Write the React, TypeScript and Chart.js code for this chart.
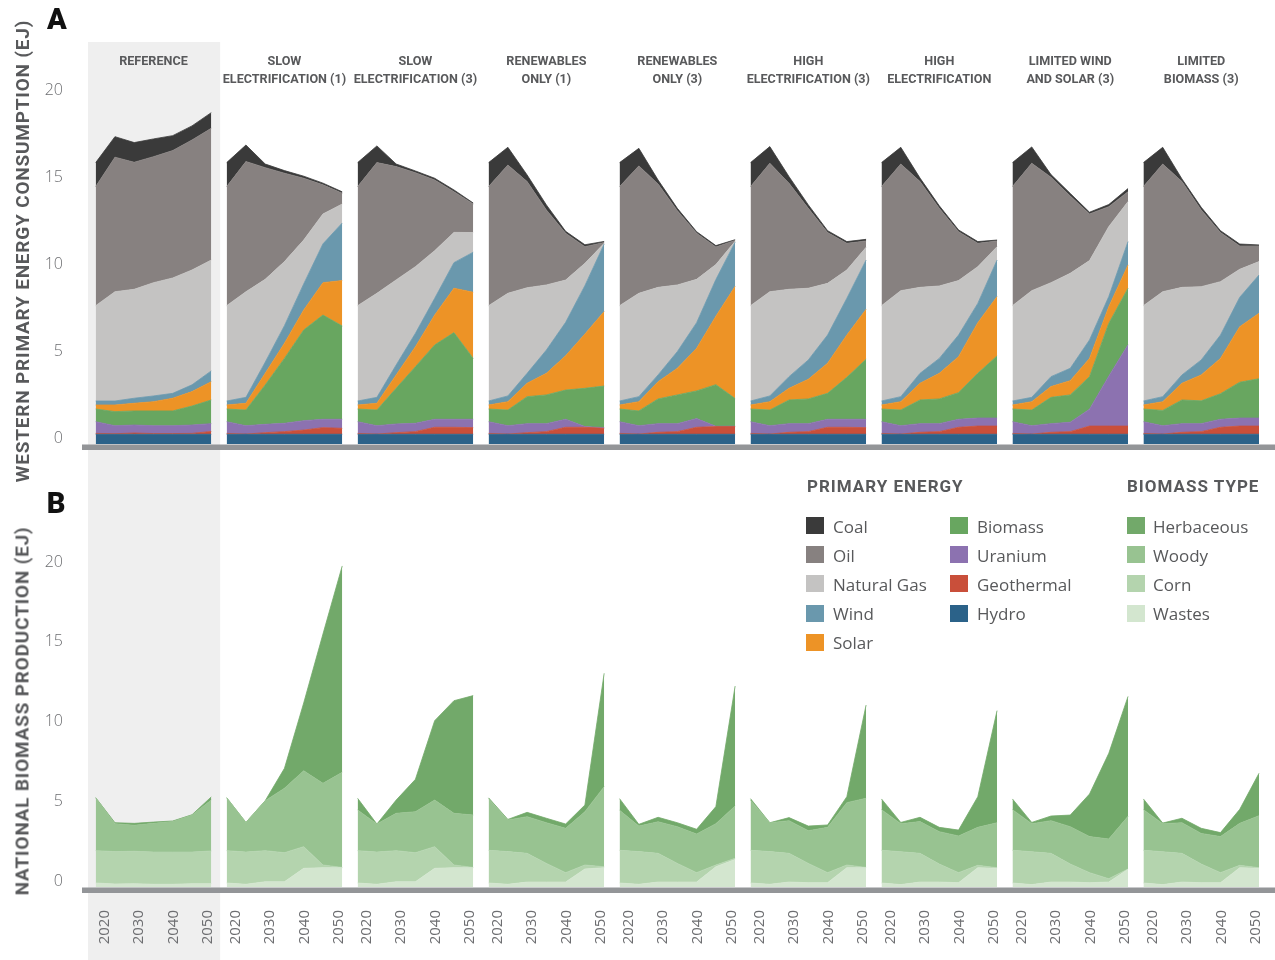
import React, { useEffect, useRef } from 'react';
import { Chart, registerables } from 'chart.js';

Chart.register(...registerables);

// ---------- categories ----------
const YEARS = [2020, 2025, 2030, 2035, 2040, 2045, 2050];
const TICK_YEARS = ['2020', '2030', '2040', '2050'];
const Y_TICKS = [0, 5, 10, 15, 20];
const SCENARIOS = [
  ['REFERENCE'],
  ['SLOW', 'ELECTRIFICATION (1)'],
  ['SLOW', 'ELECTRIFICATION (3)'],
  ['RENEWABLES', 'ONLY (1)'],
  ['RENEWABLES', 'ONLY (3)'],
  ['HIGH', 'ELECTRIFICATION (3)'],
  ['HIGH', 'ELECTRIFICATION'],
  ['LIMITED WIND', 'AND SOLAR (3)'],
  ['LIMITED', 'BIOMASS (3)'],
];

// ---------- panel A: western primary energy consumption (EJ), rows = scenarios ----------
const hydro = [
  [0.56, 0.56, 0.56, 0.56, 0.56, 0.56, 0.56],
  [0.56, 0.56, 0.56, 0.56, 0.56, 0.56, 0.56],
  [0.56, 0.56, 0.56, 0.56, 0.56, 0.56, 0.56],
  [0.56, 0.56, 0.56, 0.56, 0.56, 0.56, 0.56],
  [0.56, 0.56, 0.56, 0.56, 0.56, 0.56, 0.56],
  [0.56, 0.56, 0.56, 0.56, 0.56, 0.56, 0.56],
  [0.56, 0.56, 0.56, 0.56, 0.56, 0.56, 0.56],
  [0.56, 0.56, 0.56, 0.56, 0.56, 0.56, 0.56],
  [0.56, 0.56, 0.56, 0.56, 0.56, 0.56, 0.56],
];
const geothermal = [
  [0.05, 0.03, 0.07, 0.04, 0.04, 0.05, 0.16],
  [0.05, 0.01, 0.09, 0.15, 0.24, 0.38, 0.34],
  [0.05, 0.01, 0.09, 0.15, 0.40, 0.40, 0.38],
  [0.05, 0.01, 0.09, 0.15, 0.40, 0.40, 0.34],
  [0.05, 0.01, 0.11, 0.15, 0.40, 0.44, 0.44],
  [0.05, 0.01, 0.11, 0.15, 0.40, 0.40, 0.38],
  [0.05, 0.01, 0.11, 0.15, 0.40, 0.47, 0.47],
  [0.05, 0.01, 0.11, 0.15, 0.47, 0.47, 0.47],
  [0.05, 0.01, 0.11, 0.15, 0.40, 0.47, 0.47],
];
const uranium = [
  [0.67, 0.46, 0.46, 0.45, 0.45, 0.48, 0.45],
  [0.67, 0.48, 0.48, 0.48, 0.54, 0.48, 0.52],
  [0.67, 0.48, 0.50, 0.48, 0.46, 0.46, 0.48],
  [0.67, 0.48, 0.52, 0.46, 0.46, 0.04, 0.04],
  [0.67, 0.48, 0.50, 0.46, 0.50, 0.02, 0.02],
  [0.67, 0.48, 0.50, 0.46, 0.46, 0.46, 0.48],
  [0.67, 0.48, 0.50, 0.46, 0.46, 0.46, 0.46],
  [0.67, 0.48, 0.50, 0.54, 0.97, 2.87, 4.67],
  [0.67, 0.48, 0.50, 0.46, 0.46, 0.46, 0.46],
];
const biomass = [
  [0.73, 0.81, 0.81, 0.85, 0.85, 1.09, 1.36],
  [0.73, 0.90, 2.26, 3.73, 5.21, 5.99, 5.36],
  [0.73, 0.90, 2.05, 3.25, 4.27, 4.98, 3.50],
  [0.73, 0.90, 1.55, 1.65, 1.68, 2.20, 2.39],
  [0.73, 0.85, 1.42, 1.65, 1.59, 2.39, 1.59],
  [0.73, 0.90, 1.36, 1.42, 1.49, 2.41, 3.45],
  [0.73, 0.90, 1.36, 1.42, 1.53, 2.57, 3.57],
  [0.73, 0.90, 1.51, 1.57, 1.87, 3.03, 3.25],
  [0.73, 0.88, 1.36, 1.31, 1.47, 2.06, 2.26],
];
const solar = [
  [0.23, 0.38, 0.44, 0.53, 0.73, 0.83, 1.05],
  [0.23, 0.39, 0.67, 0.87, 1.15, 1.86, 2.61],
  [0.23, 0.39, 0.77, 1.15, 1.72, 2.55, 3.80],
  [0.23, 0.48, 0.77, 1.24, 1.97, 3.12, 4.28],
  [0.23, 0.53, 0.99, 1.53, 2.45, 3.93, 6.45],
  [0.23, 0.48, 0.67, 1.13, 1.73, 2.43, 2.87],
  [0.23, 0.48, 0.96, 1.47, 2.07, 2.91, 3.41],
  [0.23, 0.48, 0.62, 0.82, 1.05, 0.96, 1.34],
  [0.23, 0.50, 0.96, 1.49, 2.03, 3.19, 3.76],
];
const wind = [
  [0.23, 0.23, 0.29, 0.33, 0.28, 0.39, 0.62],
  [0.23, 0.34, 0.64, 1.01, 1.50, 2.23, 3.31],
  [0.23, 0.34, 0.57, 0.77, 0.96, 1.47, 2.30],
  [0.23, 0.33, 0.57, 1.34, 1.92, 2.78, 3.88],
  [0.23, 0.29, 0.39, 0.96, 1.47, 2.11, 2.54],
  [0.23, 0.33, 0.67, 1.11, 1.62, 2.11, 2.83],
  [0.23, 0.29, 0.57, 0.86, 1.24, 1.11, 2.10],
  [0.23, 0.25, 0.57, 0.71, 1.06, 0.58, 1.34],
  [0.23, 0.29, 0.48, 0.86, 1.34, 1.69, 2.20],
];
const naturalGas = [
  [5.48, 6.28, 6.26, 6.51, 6.63, 6.60, 6.37],
  [5.48, 6.07, 4.76, 3.68, 2.52, 1.72, 1.09],
  [5.48, 5.98, 4.89, 3.83, 2.74, 1.74, 1.13],
  [5.48, 5.90, 4.92, 3.74, 2.43, 1.28, 0.04],
  [5.48, 5.94, 5.03, 3.83, 2.49, 0.86, 0.05],
  [5.48, 5.99, 5.02, 4.12, 2.97, 1.63, 0.73],
  [5.48, 6.09, 4.94, 4.16, 3.13, 2.11, 0.77],
  [5.48, 6.13, 5.40, 5.46, 4.56, 4.02, 2.30],
  [5.48, 6.03, 5.03, 4.21, 3.07, 1.61, 0.77],
];
const oil = [
  [6.84, 7.73, 7.30, 7.24, 7.32, 7.47, 7.57],
  [6.84, 7.48, 6.42, 5.08, 3.55, 1.67, 0.62],
  [6.84, 7.51, 6.51, 5.40, 4.06, 2.34, 1.64],
  [6.84, 7.37, 6.10, 4.31, 2.69, 0.96, 0.05],
  [6.84, 7.32, 5.94, 4.27, 2.65, 1.01, 0.05],
  [6.84, 7.38, 6.09, 4.59, 2.92, 1.53, 0.37],
  [6.84, 7.28, 6.08, 4.46, 2.81, 1.34, 0.33],
  [6.84, 7.32, 6.06, 4.44, 2.68, 1.15, 0.57],
  [6.84, 7.34, 6.08, 4.41, 2.82, 1.34, 0.90],
];
const coal = [
  [1.38, 1.18, 1.13, 1.02, 0.86, 0.81, 0.90],
  [1.38, 0.95, 0.21, 0.15, 0.12, 0.10, 0.08],
  [1.38, 0.96, 0.15, 0.10, 0.10, 0.10, 0.06],
  [1.38, 1.02, 0.38, 0.29, 0.11, 0.11, 0.06],
  [1.38, 1.01, 0.23, 0.13, 0.09, 0.08, 0.04],
  [1.38, 0.96, 0.38, 0.20, 0.11, 0.10, 0.09],
  [1.38, 0.96, 0.20, 0.15, 0.10, 0.10, 0.05],
  [1.38, 0.94, 0.15, 0.15, 0.10, 0.12, 0.18],
  [1.38, 0.96, 0.15, 0.15, 0.11, 0.11, 0.06],
];

// ---------- panel B: national biomass production (EJ), rows = scenarios ----------
const wastes = [
  [0.25, 0.19, 0.21, 0.17, 0.17, 0.21, 0.21],
  [0.25, 0.17, 0.33, 0.33, 1.17, 1.21, 1.21],
  [0.25, 0.17, 0.33, 0.33, 1.17, 1.21, 1.21],
  [0.25, 0.17, 0.31, 0.31, 0.31, 1.13, 1.21],
  [0.25, 0.17, 0.31, 0.31, 0.31, 1.27, 1.73],
  [0.25, 0.17, 0.31, 0.27, 0.27, 1.21, 1.21],
  [0.25, 0.15, 0.31, 0.31, 0.27, 1.21, 1.17],
  [0.25, 0.15, 0.31, 0.31, 0.27, 0.31, 1.11],
  [0.25, 0.15, 0.31, 0.27, 0.27, 1.21, 1.17],
];
const corn = [
  [2.03, 2.03, 2.03, 2.02, 2.02, 1.98, 2.05],
  [2.03, 2.02, 1.95, 1.82, 1.36, 0.17, 0.02],
  [2.03, 2.02, 1.95, 1.82, 1.36, 0.17, 0.02],
  [2.05, 2.05, 1.80, 1.17, 0.59, 0.25, 0.06],
  [2.05, 2.05, 1.80, 1.17, 0.59, 0.11, 0.07],
  [2.05, 2.05, 1.80, 1.21, 0.63, 0.17, 0.02],
  [2.05, 2.06, 1.80, 1.13, 0.63, 0.15, 0.04],
  [2.05, 2.06, 1.80, 1.13, 0.63, 0.21, 0.02],
  [2.05, 2.06, 1.80, 1.17, 0.63, 0.15, 0.04],
];
const woody = [
  [3.32, 1.75, 1.63, 1.80, 1.91, 2.32, 3.19],
  [3.32, 1.86, 3.13, 4.04, 4.76, 5.12, 5.96],
  [2.55, 1.76, 2.34, 2.57, 2.92, 3.24, 3.28],
  [3.24, 1.98, 2.30, 2.55, 2.78, 3.34, 5.02],
  [2.51, 1.60, 1.98, 2.30, 2.42, 2.59, 3.28],
  [3.13, 1.81, 2.05, 2.05, 2.84, 3.91, 4.33],
  [2.55, 1.76, 1.99, 2.03, 2.30, 2.38, 2.82],
  [2.55, 1.76, 2.05, 2.34, 2.26, 2.49, 3.30],
  [2.55, 1.76, 1.92, 1.92, 2.26, 2.63, 3.26],
];
const herbaceous = [
  [0.00, 0.06, 0.12, 0.08, 0.04, 0.02, 0.20],
  [0.00, 0.00, 0.00, 1.25, 4.25, 9.36, 12.94],
  [0.73, 0.00, 0.83, 2.03, 4.98, 7.06, 7.49],
  [0.05, 0.04, 0.27, 0.28, 0.27, 0.42, 7.11],
  [0.73, 0.11, 0.28, 0.25, 0.30, 1.07, 7.52],
  [0.11, 0.00, 0.19, 0.29, 0.15, 0.37, 5.85],
  [0.67, 0.08, 0.27, 0.27, 0.37, 1.92, 7.03],
  [0.67, 0.08, 0.29, 0.73, 2.67, 5.37, 7.52],
  [0.67, 0.04, 0.28, 0.32, 0.25, 0.88, 2.66],
];

// stacking order, bottom to top
const ENERGY = [
  { name: 'Hydro', color: '#2b6289', values: hydro },
  { name: 'Geothermal', color: '#c94f3a', values: geothermal },
  { name: 'Uranium', color: '#8c72b0', values: uranium },
  { name: 'Biomass', color: '#68a660', values: biomass },
  { name: 'Solar', color: '#ed9326', values: solar },
  { name: 'Wind', color: '#6a98ad', values: wind },
  { name: 'Natural Gas', color: '#c4c3c2', values: naturalGas },
  { name: 'Oil', color: '#878180', values: oil },
  { name: 'Coal', color: '#3a3a3a', values: coal },
];
const BIOMASS_TYPES = [
  { name: 'Wastes', color: '#d3e6cf', values: wastes },
  { name: 'Corn', color: '#b4d4ae', values: corn },
  { name: 'Woody', color: '#98c391', values: woody },
  { name: 'Herbaceous', color: '#72a96a', values: herbaceous },
];

// ---------- layout ----------
const W = 1275;
const H = 960;
const PLOT_LEFT = 82;
const PLOT_TOP = 42;
const PLOT_BOTTOM = 893;
const DATA_LEFT = 95.7;
const PX_PER_YEAR = 3.852;
const SPAN = 34; // years of x-space per scenario block (30 of data + gap)
const TICK_POS = [2.4, 11.3, 20.3, 29.2];
const X_MIN = -(DATA_LEFT - PLOT_LEFT) / PX_PER_YEAR;
const X_MAX = (W - DATA_LEFT) / PX_PER_YEAR;
const TEXT = '#58595b';
const TICK_TEXT = '#6d6e71';

const xPix = (u: number) => DATA_LEFT + u * PX_PER_YEAR;

const bgPlugin = {
  id: 'bgBand',
  beforeDraw(chart: any) {
    const { ctx, scales } = chart;
    const x = scales.x;
    const l = x.getPixelForValue(-2);
    const r = x.getPixelForValue(32.3);
    ctx.save();
    ctx.fillStyle = '#efefef';
    ctx.fillRect(l, chart.chartArea.top, r - l, chart.height - chart.chartArea.top);
    ctx.restore();
  },
  afterDatasetsDraw(chart: any) {
    const { ctx, scales } = chart;
    ctx.save();
    ctx.fillStyle = '#939598';
    for (const id of ['yA', 'yB']) {
      const s = scales[id];
      const y0 = s.getPixelForValue(0);
      ctx.fillRect(chart.chartArea.left, y0 + 0.5, chart.width - chart.chartArea.left, 5.5);
    }
    ctx.restore();
  },
};

function Txt(props: { x: number; y: number; align?: 'center' | 'left'; rotate?: boolean; style?: any; children: any }) {
  const { x, y, align = 'center', rotate, style, children } = props;
  const tr = rotate
    ? 'translate(-50%, -50%) rotate(-90deg)'
    : align === 'center'
    ? 'translate(-50%, -50%)'
    : 'translate(0, -50%)';
  return (
    <div
      style={{
        position: 'absolute',
        left: x,
        top: y,
        transform: tr,
        whiteSpace: 'nowrap',
        lineHeight: 1,
        color: TEXT,
        ...style,
      }}
    >
      {children}
    </div>
  );
}

const zeroPad = (s: any) => {
  s.paddingLeft = 0;
  s.paddingRight = 0;
  s.paddingTop = 0;
  s.paddingBottom = 0;
};

export default function App() {
  const ref = useRef<HTMLCanvasElement>(null);

  useEffect(() => {
    const canvas = ref.current;
    if (!canvas) return;
    const datasets: any[] = [];
    SCENARIOS.forEach((_, si) => {
      ENERGY.forEach((layer, li) => {
        datasets.push({
          label: layer.name,
          yAxisID: 'yA',
          stack: 'A' + si,
          data: YEARS.map((yr, k) => ({ x: si * SPAN + (yr - YEARS[0]), y: layer.values[si][k] })),
          backgroundColor: layer.color,
          borderColor: layer.color,
          borderWidth: 0.8,
          pointRadius: 0,
          tension: 0,
          fill: li === 0 ? 'origin' : '-1',
        });
      });
      BIOMASS_TYPES.forEach((layer, li) => {
        datasets.push({
          label: layer.name,
          yAxisID: 'yB',
          stack: 'B' + si,
          data: YEARS.map((yr, k) => ({ x: si * SPAN + (yr - YEARS[0]), y: layer.values[si][k] })),
          backgroundColor: layer.color,
          borderColor: layer.color,
          borderWidth: 0.8,
          pointRadius: 0,
          tension: 0,
          fill: li === 0 ? 'origin' : '-1',
        });
      });
    });

    const tickValues = SCENARIOS.flatMap((_, si) => TICK_POS.map((p) => si * SPAN + p));
    const yTickFont = { family: 'Open Sans', size: 16, weight: '300', lineHeight: 0.75 };

    const chart = new Chart(canvas, {
      type: 'line',
      data: { datasets },
      plugins: [bgPlugin],
      options: {
        responsive: false,
        animation: false,
        devicePixelRatio: 1,
        layout: { autoPadding: false, padding: { top: PLOT_TOP, right: 0, left: 0, bottom: 0 } },
        plugins: { legend: { display: false }, tooltip: { enabled: false }, title: { display: false } },
        scales: {
          x: {
            type: 'linear',
            min: X_MIN,
            max: X_MAX,
            grid: { display: false, drawTicks: false },
            border: { display: false },
            afterBuildTicks: (s: any) => {
              s.ticks = tickValues.map((v) => ({ value: v }));
            },
            afterFit: (s: any) => {
              s.height = H - PLOT_BOTTOM;
              zeroPad(s);
            },
            ticks: {
              autoSkip: false,
              minRotation: 90,
              maxRotation: 90,
              padding: 17,
              color: TICK_TEXT,
              font: { family: 'Open Sans', size: 15 },
              callback: (_v: any, i: number) => TICK_YEARS[i % TICK_YEARS.length],
            },
          },
          // stacked layout: the later-defined axis is placed on top
          yB: {
            type: 'linear',
            position: 'left',
            stack: 'panels',
            stackWeight: 443,
            stacked: true,
            min: -0.376,
            max: 27.4,
            grid: { display: false, drawTicks: false },
            border: { display: false },
            afterBuildTicks: (s: any) => {
              s.ticks = Y_TICKS.map((v) => ({ value: v }));
            },
            afterFit: (s: any) => {
              s.width = PLOT_LEFT;
              zeroPad(s);
            },
            ticks: { padding: 19, color: TICK_TEXT, font: yTickFont, callback: (v: any) => [String(v), ''] },
          },
          yA: {
            type: 'linear',
            position: 'left',
            stack: 'panels',
            stackWeight: 408,
            stacked: true,
            min: -0.345,
            max: 23.1,
            grid: { display: false, drawTicks: false },
            border: { display: false },
            afterBuildTicks: (s: any) => {
              s.ticks = Y_TICKS.map((v) => ({ value: v }));
            },
            afterFit: (s: any) => {
              s.width = PLOT_LEFT;
              zeroPad(s);
            },
            ticks: { padding: 19, color: TICK_TEXT, font: yTickFont, callback: (v: any) => [String(v), ''] },
          },
        },
      } as any,
    });
    return () => chart.destroy();
  }, []);

  const titleStyle = { fontFamily: 'Roboto', fontWeight: 700, fontSize: 12.6, letterSpacing: '0px' };
  const axisTitleStyle = { fontFamily: 'Roboto', fontWeight: 700, fontSize: 19, letterSpacing: '0.8px' };
  const legendHead = { fontFamily: 'Roboto', fontWeight: 700, fontSize: 17, letterSpacing: '1px' };
  const legendText = { fontFamily: 'Open Sans', fontSize: 17 };

  const energyLegend = [...ENERGY].reverse();
  const bioLegend = [...BIOMASS_TYPES].reverse();
  const rowY = (r: number) => 525.5 + r * 29.2;

  return (
    <div style={{ position: 'absolute', left: 0, top: 0, width: W, height: H, background: '#fff', overflow: 'hidden' }}>
      <canvas ref={ref} width={W} height={H} style={{ display: 'block', width: W, height: H }} />

      <Txt x={57} y={19} style={{ fontFamily: 'Roboto', fontWeight: 900, fontSize: 29, color: '#111' }}>A</Txt>
      <Txt x={56} y={503} style={{ fontFamily: 'Roboto', fontWeight: 900, fontSize: 29, color: '#111' }}>B</Txt>

      <Txt x={22} y={251} rotate style={axisTitleStyle}>WESTERN PRIMARY ENERGY CONSUMPTION (EJ)</Txt>
      <Txt x={22} y={711} rotate style={axisTitleStyle}>NATIONAL BIOMASS PRODUCTION (EJ)</Txt>

      {SCENARIOS.map((lines, si) =>
        lines.map((ln, k) => (
          <Txt key={si + '-' + k} x={xPix(si * SPAN + 15)} y={61 + k * 18} style={titleStyle}>
            {ln}
          </Txt>
        ))
      )}

      <Txt x={807} y={486} align="left" style={legendHead}>PRIMARY ENERGY</Txt>
      <Txt x={1127} y={486} align="left" style={legendHead}>BIOMASS TYPE</Txt>

      {energyLegend.map((l, i) => {
        const col = i < 5 ? 0 : 1;
        const row = i < 5 ? i : i - 5;
        const sx = col === 0 ? 806 : 950;
        return (
          <React.Fragment key={l.name}>
            <div style={{ position: 'absolute', left: sx, top: rowY(row) - 8.5, width: 18, height: 17, background: l.color }} />
            <Txt x={sx + 27} y={rowY(row)} align="left" style={legendText}>{l.name}</Txt>
          </React.Fragment>
        );
      })}
      {bioLegend.map((l, i) => (
        <React.Fragment key={l.name}>
          <div style={{ position: 'absolute', left: 1127, top: rowY(i) - 8.5, width: 18, height: 17, background: l.color }} />
          <Txt x={1153} y={rowY(i)} align="left" style={legendText}>{l.name}</Txt>
        </React.Fragment>
      ))}
    </div>
  );
}
